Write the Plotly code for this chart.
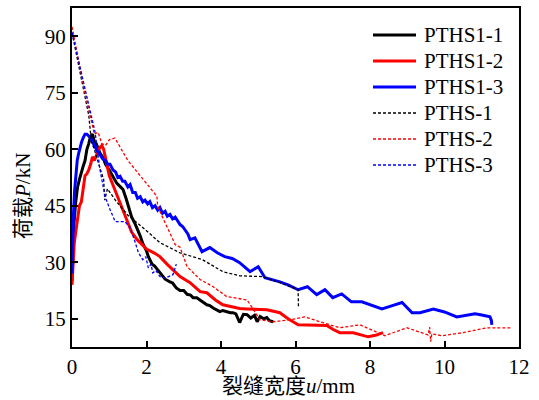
import plotly.graph_objects as go

# ---- data: (crack width u [mm], load P [kN]) ----
PTHS1_1 = [(0, 25), (0.02, 31), (0.05, 40), (0.1, 46), (0.15, 50), (0.2, 52), (0.25, 54), (0.3, 55.5),
           (0.35, 57), (0.4, 60), (0.45, 61.5), (0.5, 63.5), (0.55, 64), (0.6, 62), (0.65, 61.5), (0.7, 60),
           (0.75, 59), (0.83, 57.8), (0.9, 56), (1.0, 54.5), (1.1, 52.8), (1.2, 51), (1.3, 50), (1.37, 49.3),
           (1.45, 47), (1.52, 44.5), (1.6, 42), (1.68, 40.5), (1.75, 39), (1.83, 37), (1.9, 35), (2.0, 33),
           (2.05, 31.5), (2.1, 30.5), (2.15, 29.5), (2.22, 29), (2.3, 28), (2.36, 27), (2.45, 26), (2.5, 25.5),
           (2.63, 24.8), (2.7, 24.5), (2.8, 23.2), (2.9, 22.5), (3.0, 22.5), (3.09, 21.5), (3.18, 21.3),
           (3.25, 20.6), (3.35, 20.6), (3.45, 19.8), (3.55, 19.2), (3.62, 18.7), (3.7, 18.5), (3.8, 17.8),
           (3.9, 17.2), (3.97, 16.9), (4.05, 17.2), (4.15, 16.8), (4.25, 16.6), (4.32, 16.6), (4.4, 16.3),
           (4.5, 14), (4.6, 16.2), (4.7, 16.1), (4.8, 15.2), (4.9, 15.9), (4.97, 14.2), (5.05, 15.6),
           (5.15, 15), (5.23, 15.3), (5.3, 14.5), (5.4, 14.2)]

PTHS1_2 = [(0, 24), (0.03, 30), (0.06, 35), (0.1, 38), (0.15, 42), (0.2, 45), (0.25, 46), (0.3, 50),
           (0.35, 53), (0.4, 53.5), (0.45, 54.5), (0.5, 56), (0.55, 58), (0.6, 57), (0.65, 58.5), (0.7, 59.5),
           (0.75, 60.5), (0.8, 61), (0.85, 60), (0.9, 57.5), (0.95, 55.5), (1.0, 53), (1.1, 50.5), (1.2, 48),
           (1.3, 45.5), (1.4, 43), (1.47, 41), (1.6, 38), (1.75, 36), (1.9, 34.5), (2.0, 33.5), (2.2, 32.5),
           (2.36, 31.5), (2.55, 29.5), (2.71, 28), (2.9, 26.2), (3.17, 24.6), (3.44, 22.2), (3.62, 21.9),
           (3.85, 20), (4.05, 18.7), (4.15, 18.5), (4.5, 17.7), (4.7, 17.6), (5.0, 17.4), (5.23, 17.4),
           (5.58, 16.6), (5.8, 15), (6.07, 13.4), (6.3, 13.4), (6.84, 13.2), (7.0, 12.2), (7.19, 11.3),
           (7.55, 11.3), (7.95, 10.2), (8.15, 10.6), (8.35, 11.3)]

PTHS1_3 = [(0, 27), (0.02, 36), (0.04, 43), (0.07, 49), (0.1, 53), (0.14, 57), (0.18, 59), (0.22, 61),
           (0.26, 62), (0.3, 63), (0.35, 64), (0.4, 64), (0.45, 63.5), (0.5, 63), (0.55, 62), (0.6, 61),
           (0.68, 59.5), (0.75, 58.6), (0.82, 57.5), (0.9, 57), (0.96, 56), (1.02, 56), (1.1, 54.5),
           (1.17, 54), (1.23, 52.5), (1.29, 52.8), (1.36, 51.5), (1.42, 51.5), (1.5, 50), (1.56, 50.6),
           (1.63, 48.5), (1.7, 48.5), (1.76, 47), (1.83, 47.4), (1.9, 46), (1.96, 46.5), (2.03, 45.5),
           (2.09, 46.1), (2.16, 44.5), (2.23, 45), (2.3, 43.8), (2.36, 44.5), (2.43, 43), (2.5, 43.5),
           (2.56, 42.2), (2.63, 42.7), (2.7, 41.5), (2.77, 42), (2.84, 40.8), (2.9, 40), (2.97, 39.5),
           (3.04, 38.5), (3.11, 37.5), (3.17, 36), (3.3, 36.5), (3.49, 32.8), (3.6, 33.5), (3.7, 33.9),
           (3.9, 32.5), (4.1, 31.5), (4.3, 31), (4.5, 29.9), (4.78, 27.5), (5.0, 28.8), (5.18, 25.9),
           (5.35, 25.5), (5.58, 24.8), (5.8, 24), (6.07, 22.7), (6.32, 23.5), (6.57, 21.4), (6.79, 22.7),
           (7.0, 20.6), (7.24, 21.6), (7.5, 19.5), (7.78, 19.5), (8.05, 18.5), (8.32, 17.6), (8.6, 18.5),
           (8.86, 19.3), (9.13, 16.6), (9.34, 16.6), (9.7, 17.6), (10.0, 16.8), (10.33, 15.5), (10.6, 15.9),
           (10.82, 16.3), (11.0, 16), (11.22, 15.5), (11.26, 14.5), (11.27, 13.4)]

PTHS_1 = [(0, 91), (0.45, 69), (0.52, 62), (0.6, 60), (0.75, 55), (0.85, 52), (0.88, 46.5), (0.95, 49.5),
          (1.2, 46), (1.5, 42.5), (1.96, 38.7), (2.36, 35.2), (2.9, 32.5), (3.5, 30.7), (4.05, 27.5),
          (4.5, 26.4), (5.1, 26.2), (5.58, 24.6), (6.07, 22.7), (6.08, 18.2)]

PTHS_2 = [(0, 92.5), (0.35, 75), (0.6, 64), (0.7, 64.5), (0.8, 61.5), (0.9, 61), (1.0, 62.5), (1.15, 63),
          (1.5, 57), (1.9, 52), (2.28, 47.5), (2.3, 44.8), (2.58, 38.7), (2.77, 34.7), (2.9, 34),
          (3.09, 28.8), (3.44, 25.4), (3.79, 23.5), (4.15, 20.9), (4.7, 20), (5.05, 14.7), (5.4, 14.2),
          (5.85, 14.7), (6.25, 15.5), (6.66, 14.2), (7.19, 12.6), (7.73, 13.4), (8.4, 10.5), (8.99, 12.6),
          (9.56, 10.7), (9.6, 12.8), (9.63, 8.9), (9.66, 11), (9.93, 10.5), (10.5, 11.3), (11.14, 12.6),
          (11.8, 12.6)]

PTHS_3 = [(0, 91), (0.43, 73), (0.62, 64.5), (0.75, 54.6), (0.89, 47.4), (1.02, 44), (1.16, 40.8),
          (1.42, 40.8), (1.56, 39.2), (1.69, 35.5), (1.78, 32.6), (1.9, 30.7), (1.98, 31.5), (2.05, 28.5),
          (2.12, 29.5), (2.17, 27.2), (2.25, 27.8), (2.36, 26.2), (2.5, 25.8), (2.71, 26.7), (2.8, 29.5)]

names = ["PTHS1-1", "PTHS1-2", "PTHS1-3", "PTHS-1", "PTHS-2", "PTHS-3"]
datasets = [PTHS1_1, PTHS1_2, PTHS1_3, PTHS_1, PTHS_2, PTHS_3]
colors = ["black", "#ff0000", "#0000ff", "black", "#ff0000", "#0000ff"]
dashes = ["solid", "solid", "solid", "3px,2px", "3px,2px", "3px,2px"]
widths = [3, 3, 3, 1.3, 1.3, 1.3]

x_ticks = [0, 2, 4, 6, 8, 10, 12]
y_ticks = [15, 30, 45, 60, 75, 90]
x_title = "裂缝宽度<i>u</i>/mm"
y_title = "荷载<i>P</i>/kN"

FONT = "Liberation Serif, Times New Roman, Noto Sans CJK SC, serif"

# plot-area geometry in pixels (for the hand-drawn legend and titles)
W, H = 539, 400
L, R, T, B = 72, 20, 8, 53
PW, PH = W - L - R, H - T - B


def px2paper(px, py):
    return (px - L) / PW, (H - B - py) / PH


fig = go.Figure()
for name, pts, color, dash, w in zip(names, datasets, colors, dashes, widths):
    u = [p[0] for p in pts]
    P = [p[1] for p in pts]
    fig.add_trace(go.Scatter(x=u, y=P, mode="lines", name=name, showlegend=False,
                             line=dict(color=color, dash=dash, width=w)))

# legend drawn as shapes + text so its spacing matches
shapes, annotations = [], []
for i, (name, color, dash, w) in enumerate(zip(names, colors, dashes, widths)):
    cy = 35 + 26 * i
    x0, y0 = px2paper(373, cy)
    x1, _ = px2paper(416, cy)
    shapes.append(dict(type="line", xref="paper", yref="paper", x0=x0, x1=x1, y0=y0, y1=y0,
                       line=dict(color=color, width=w, dash=dash)))
    tx, ty = px2paper(422, cy)
    annotations.append(dict(xref="paper", yref="paper", x=tx, y=ty, xanchor="left", yanchor="middle",
                            text=name, showarrow=False, font=dict(family=FONT, size=21, color="black")))

# axis titles
ax, ay = px2paper(288, 386)
annotations.append(dict(xref="paper", yref="paper", x=ax, y=ay, xanchor="center", yanchor="middle",
                        text=x_title, showarrow=False, font=dict(family=FONT, size=21, color="black")))
bx, by = px2paper(23, 196)
annotations.append(dict(xref="paper", yref="paper", x=bx, y=by, xanchor="center", yanchor="middle",
                        text=y_title, textangle=-90, showarrow=False,
                        font=dict(family=FONT, size=21, color="black")))

fig.update_layout(
    width=W, height=H,
    margin=dict(l=L, r=R, t=T, b=B),
    paper_bgcolor="white", plot_bgcolor="white",
    font=dict(family=FONT, size=21, color="black"),
    showlegend=False,
    shapes=shapes, annotations=annotations,
    xaxis=dict(range=[0, 12], tickvals=x_ticks, ticks="inside", ticklen=6, tickwidth=2,
               tickcolor="black", showline=True, linecolor="black", linewidth=2, mirror=True,
               showgrid=False, zeroline=False, automargin=False),
    yaxis=dict(range=[7.5, 97.5], tickvals=y_ticks, ticks="inside", ticklen=6, tickwidth=2,
               tickcolor="black", showline=True, linecolor="black", linewidth=2, mirror=True,
               showgrid=False, zeroline=False, automargin=False),
)

fig.write_html("out.html", config={"displayModeBar": False},
               post_script="document.body.style.margin='0';document.body.style.overflow='hidden';")
